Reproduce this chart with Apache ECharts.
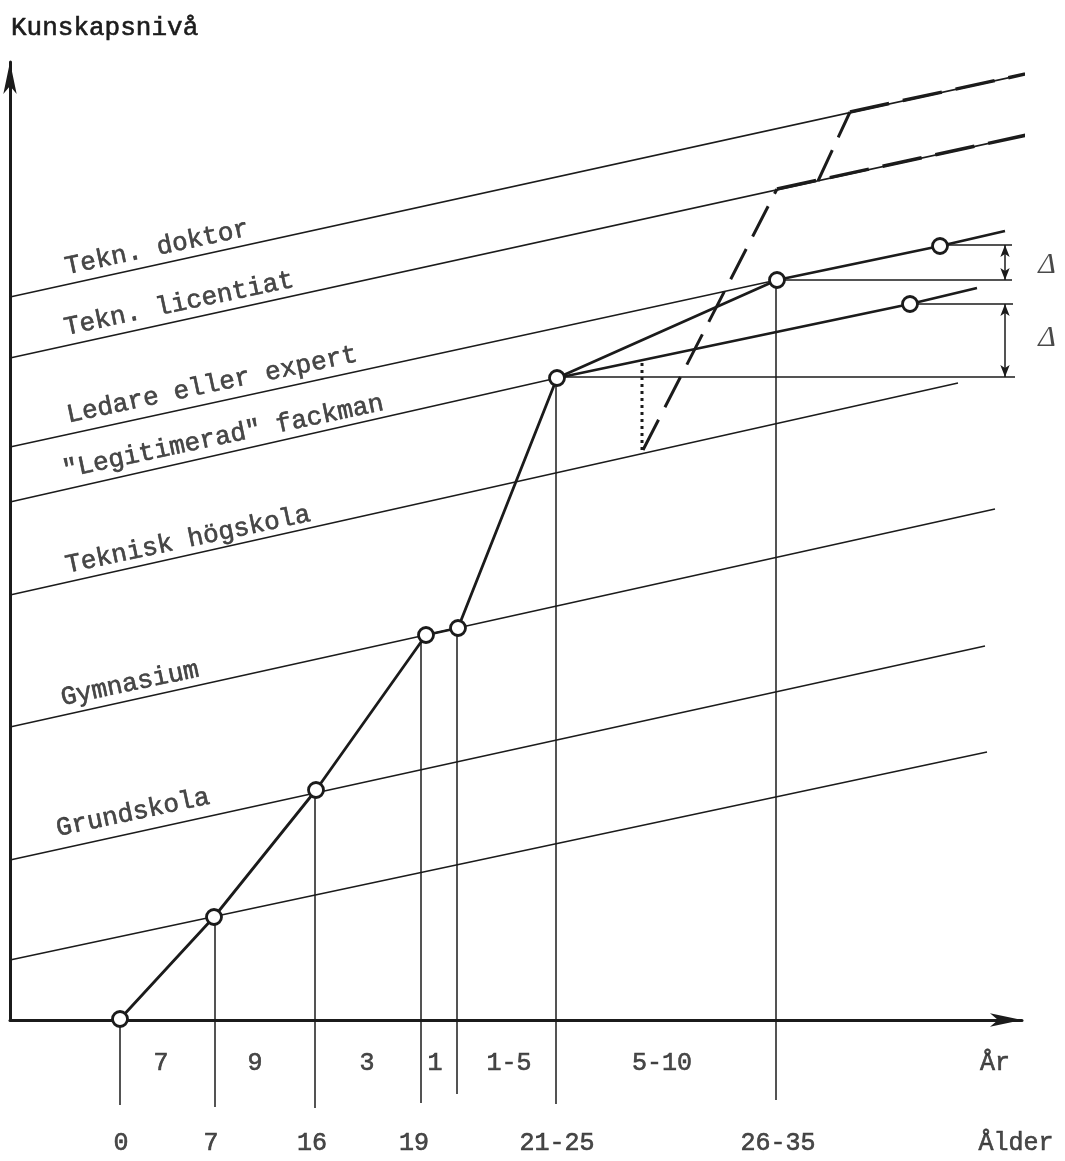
<!DOCTYPE html>
<html>
<head>
<meta charset="utf-8">
<script src="https://cdn.jsdelivr.net/npm/echarts@6/dist/echarts.min.js"></script>
<style>
html,body{margin:0;padding:0;background:#fff;}
#chart{width:1065px;height:1161px;}
</style>
</head>
<body>
<div id="chart"></div>
<script>
// Diagram units: x = schematic "age" position, y = knowledge level (Kunskapsnivå)
const levelNames = ['Grundskola', 'Gymnasium', 'Teknisk högskola', '"Legitimerad" fackman', 'Ledare eller expert', 'Tekn. licentiat', 'Tekn. doktor'];
const levelLabelX = [123, 120, 178, 213, 202, 169, 147];
const levelLabelY = [207, 336, 480, 583, 635, 716, 772];

// thin sloping level lines: start at x=0
const levelStartY = [60, 160, 293, 425, 518, 573, 662, 723];
const levelEndX   = [977, 975, 985, 948, 547, 767, 1026, 1043];
const levelEndY   = [268, 374, 511, 637, 642, 740, 887, 952];

// main career path (thick) and branch
const pathX = [110, 204, 306, 416, 448, 547, 767, 930, 995];
const pathY = [1, 103, 230, 385, 392, 642, 740, 774, 789];
const pathCircles = [0, 1, 2, 3, 4, 5, 6, 7];
const branchX = [547, 900, 967];
const branchY = [642, 716, 732];
const branchCircles = [1];

// vertical drop lines to the age scale
const dropX       = [110, 205, 305, 411, 447, 546, 766];
const dropTopY    = [1, 103, 230, 385, 392, 642, 740];
const dropBottomY = [-85, -87, -88, -83, -74, -84, -80];

// duration row (År) and age row (Ålder)
const durations = ['7', '9', '3', '1', '1-5', '5-10', 'År'];
const durX = [151, 245, 357, 425, 499, 652, 985];
const durRowY = -43;
const ages = ['0', '7', '16', '19', '21-25', '26-35', 'Ålder'];
const ageX = [111, 201, 302, 404, 547, 768, 1006];
const ageRowY = -123;

// Δ markers
const deltaX0 = [930, 767, 900, 547];
const deltaX1 = [1002, 1002, 1003, 1005];
const deltaY  = [775, 740, 716, 643];
const deltaArrowX = 995;
const deltaArrowFrom = [775, 716];
const deltaArrowTo   = [740, 643];
const deltaLabelX = 1037;
const deltaLabelY = [755, 682];

// dashed jumps and dashed continuations
const steepDashX = [[633, 767], [808, 840]];
const steepDashY = [[570, 831], [839, 908]];
const overlayDashX = [[767, 1026], [840, 1043]];
const overlayDashY = [[831, 887], [908, 952]];
const dottedX = [632, 632];
const dottedY = [570, 658];

const INK = '#1b1b1b';
const MONO = "'Liberation Mono', 'DejaVu Sans Mono', monospace";

const series = [];
function seg(xs, ys, width, type, z) {
  series.push({
    type: 'line', data: xs.map((x, i) => [x, ys[i]]), symbol: 'none', clip: false,
    lineStyle: { color: INK, width: width, type: type || 'solid', cap: 'butt', opacity: 1 },
    silent: true, z: z || 2, animation: false
  });
}
// level lines
levelStartY.forEach((y0, i) => seg([0, levelEndX[i]], [y0, levelEndY[i]], 1.5, 'solid', 2));
// dashed continuations
overlayDashX.forEach((xs, i) => seg(xs, overlayDashY[i], 3.5, [40, 14], 3));
steepDashX.forEach((xs, i) => seg(xs, steepDashY[i], 3, [34, 14], 3));
seg(dottedX, dottedY, 3, [3, 4], 3);
// drop lines
dropX.forEach((x, i) => seg([x, x], [dropTopY[i], dropBottomY[i]], 1.5, 'solid', 2));
// delta horizontal lines
deltaX0.forEach((x, i) => seg([x, deltaX1[i]], [deltaY[i], deltaY[i]], 1.5, 'solid', 2));
// main path & branch
seg(pathX, pathY, 2.8, 'solid', 4);
seg(branchX, branchY, 2.8, 'solid', 4);
// delta double arrows
series.push({
  type: 'line', data: [], clip: false, silent: true, animation: false,
  markLine: {
    silent: true, symbol: ['arrow', 'arrow'], symbolSize: [7, 12], animation: false,
    label: { show: false },
    lineStyle: { color: INK, width: 1.5, type: 'solid', opacity: 1 },
    data: deltaArrowFrom.map((y, i) => [{ coord: [deltaArrowX, y] }, { coord: [deltaArrowX, deltaArrowTo[i]] }])
  }
});
// circles
series.push({
  type: 'scatter', clip: false, silent: true, animation: false, z: 6,
  symbol: 'circle', symbolSize: 15,
  itemStyle: { color: '#ffffff', borderColor: INK, borderWidth: 2.8, opacity: 1 },
  emphasis: { disabled: true },
  data: pathCircles.map(i => [pathX[i], pathY[i]]).concat(branchCircles.map(i => [branchX[i], branchY[i]]))
});
const textThick = { textBorderColor: INK, textBorderWidth: 0.6 };
// level labels (rotated)
series.push({
  type: 'scatter', clip: false, silent: true, animation: false, z: 7, symbolSize: 0,
  data: levelNames.map((n, i) => ({ value: [levelLabelX[i], levelLabelY[i]], name: n })),
  label: Object.assign({ show: true, position: 'inside', rotate: 12, formatter: p => p.name,
           fontFamily: MONO, fontSize: 26, color: INK }, textThick)
});
// bottom rows
function row(texts, xs, y) {
  series.push({
    type: 'scatter', clip: false, silent: true, animation: false, z: 7, symbolSize: 0,
    data: texts.map((t, i) => ({ value: [xs[i], y], name: t })),
    label: Object.assign({ show: true, position: 'inside', formatter: p => p.name,
             fontFamily: MONO, fontSize: 25, color: INK }, textThick)
  });
}
row(durations, durX, durRowY);
row(ages, ageX, ageRowY);
// delta labels
series.push({
  type: 'scatter', clip: false, silent: true, animation: false, z: 7, symbolSize: 0,
  data: deltaLabelY.map(y => ({ value: [deltaLabelX, y], name: 'Δ' })),
  label: { show: true, position: 'inside', formatter: 'Δ',
           fontFamily: "'Liberation Serif', 'DejaVu Serif', serif", fontStyle: 'italic',
           fontSize: 30, color: INK }
});

const chart = echarts.init(document.getElementById('chart'), null, { renderer: 'canvas' });
chart.setOption({
  backgroundColor: '#fff',
  animation: false,
  title: {
    text: 'Kunskapsnivå', left: 6, top: 10,
    textStyle: Object.assign({ fontFamily: MONO, fontSize: 26, fontWeight: 'normal', color: INK }, textThick)
  },
  grid: { left: 10, right: 43, top: 62, bottom: 141, containLabel: false },
  xAxis: {
    type: 'value', min: 0, max: 1012,
    axisLine: { show: true, onZero: false, symbol: ['none', 'arrow'], symbolSize: [10, 32],
                lineStyle: { color: INK, width: 3 } },
    axisTick: { show: false }, axisLabel: { show: false }, splitLine: { show: false }
  },
  yAxis: {
    type: 'value', min: 0, max: 958,
    axisLine: { show: true, onZero: false, symbol: ['none', 'arrow'], symbolSize: [10, 32],
                lineStyle: { color: INK, width: 3 } },
    axisTick: { show: false }, axisLabel: { show: false }, splitLine: { show: false }
  },
  series: series
});
</script>
</body>
</html>
